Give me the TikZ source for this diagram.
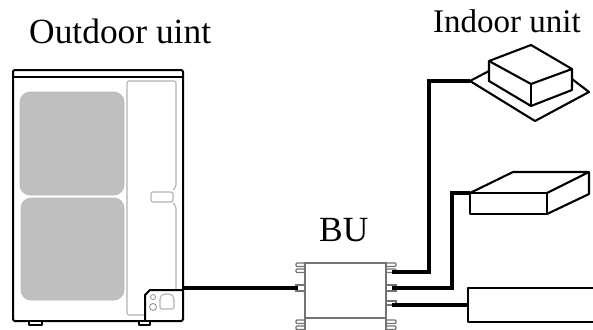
\documentclass[tikz,border=0pt]{standalone}
\usepackage{fontspec}
\setmainfont{Liberation Serif}
\tikzset{
  outline/.style={draw=black,line width=2.1pt,line join=round},
  casing/.style={draw=black,line width=2pt,line join=round},
  fanpanel/.style={fill=black!25,draw=black!28,line width=0.6pt,rounded corners=10pt},
  faint/.style={draw=black!30,line width=1.1pt,rounded corners=2pt},
  busbox/.style={draw=black!55,line width=1.4pt},
  pipe/.style={draw=black,line width=3.9pt,line join=miter},
  caption/.style={anchor=base west,inner sep=0pt,font=\fontsize{35.4}{36}\selectfont}
}
\begin{document}
\begin{tikzpicture}[x=1pt,y=-1pt]
\useasboundingbox (0,0) rectangle (593,329);
\node[caption] (outdoorlabel) at (29,44) {Outdoor uint};
\node[caption,font=\fontsize{33}{34}\selectfont] (indoorlabel) at (433,33) {Indoor unit};
\node[caption] (bulabel) at (319,241) {BU};

% outdoor unit
\draw[fanpanel] (20,92) rectangle (124,195);
\draw[fanpanel] (21,198) rectangle (124,300);
\draw[faint] (145,315) -- (127,315) -- (127,81) -- (176,81) -- (176,187) -- (173,190);
\draw[faint] (173,203) -- (176,206) -- (176,290);
\draw[faint] (151,192) rectangle (173,202);
\draw[faint] (160,309) -- (160,297) -- (163,294) -- (171,294) -- (174,297) -- (174,309) -- cycle;
\draw[draw=black!45,line width=0.8pt] (153,297) circle (2.5);
\draw[draw=black!45,line width=0.8pt] (153,307) circle (3.5);
\draw[casing,rounded corners=1.5pt] (13,70) rectangle (183,321);
\draw[casing] (13,77) -- (183,77);
\draw[casing,line width=1.3pt,fill=white] (29,321) rectangle (42,325);
\draw[casing,line width=1.3pt,fill=white] (139,321) rectangle (150,325);
\draw[casing] (145,321) -- (145,295) -- (150,290) -- (183,290);

% BU
\draw[busbox] (305,263) rectangle (386,331);
\draw[busbox] (305,318) -- (386,318);
\foreach \fy in {263,269,320,326}{
  \draw[busbox,line width=1.1pt,rounded corners=1pt] (296,\fy) rectangle (305,\fy+3.5);
  \draw[busbox,line width=1.1pt,rounded corners=1pt] (386,\fy) rectangle (396,\fy+3.5);
}
\draw[busbox,line width=1.1pt] (296,285) rectangle (305,291);
\draw[busbox,line width=1.1pt] (386,285) rectangle (396,291);
\draw[busbox,line width=1.1pt] (386,301) rectangle (396,305);
\coordinate (buleft) at (298,288);
\coordinate (buportA) at (392,272);
\coordinate (buportB) at (392,288);
\coordinate (buportC) at (392,305);

% indoor units
\draw[outline] (489,71) -- (470,81) -- (535,121) -- (589,92) -- (572,79);
\draw[outline] (489,61) -- (531,45) -- (572,69) -- (531,84) -- cycle;
\draw[outline] (489,61) -- (489,81) -- (531,106) -- (572,90) -- (572,69);
\draw[outline] (531,84) -- (531,106);
\draw[outline] (470,193) -- (513,172) -- (589,172) -- (547,193);
\draw[outline] (470,193) rectangle (547,214);
\draw[outline] (589,172) -- (589,194) -- (547,214);
\draw[outline] (594,288) -- (468,288) -- (468,322) -- (594,322);
\coordinate (odport) at (183,288);
\coordinate (inA) at (470,81);
\coordinate (inB) at (470,193);
\coordinate (inC) at (468,305);

\draw[pipe] (odport) -- (buleft);
\draw[pipe] (buportA) -| (429,81) -- (inA);
\draw[pipe] (buportB) -| (452,193) -- (inB);
\draw[pipe] (buportC) -- (inC);
\end{tikzpicture}
\end{document}
